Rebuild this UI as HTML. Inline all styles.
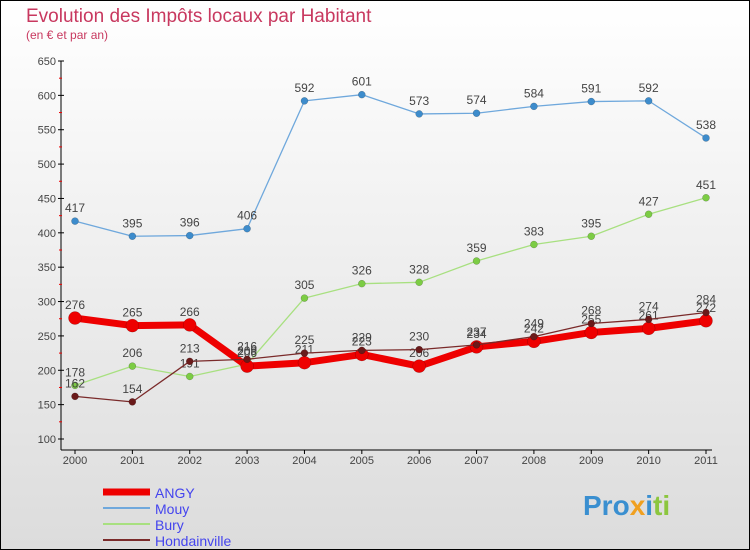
<!DOCTYPE html>
<html><head><meta charset="utf-8"><style>
body{margin:0;}
svg{display:block;font-family:"Liberation Sans",sans-serif;}
</style></head><body>
<svg id="chart" width="750" height="550">
<defs><linearGradient id="bg" x1="0" y1="0" x2="0" y2="1"><stop offset="0" stop-color="#ffffff"/><stop offset="1" stop-color="#dcdcdc"/></linearGradient></defs>
<rect x="0.5" y="0.5" width="749" height="549" fill="url(#bg)" stroke="#000"/>
<text x="26" y="22" font-size="19" fill="#c8385f">Evolution des Impôts locaux par Habitant</text>
<text x="26" y="39" font-size="12" fill="#c8385f">(en € et par an)</text>
<g id="axes"></g>
<g id="series"></g>
<g id="legend"></g>
<text x="583" y="515" font-size="28" font-weight="bold" fill="#3a8fd0">Pro<tspan fill="#f0a020">x</tspan><tspan fill="#3a8fd0">i</tspan><tspan fill="#8cc63f">ti</tspan></text>
</svg>
<script>
const years=[2000,2001,2002,2003,2004,2005,2006,2007,2008,2009,2010,2011];
const yTicks=[100,150,200,250,300,350,400,450,500,550,600,650];
const angy=[276,265,266,206,211,223,206,234,242,255,261,272];
const mouy=[417,395,396,406,592,601,573,574,584,591,592,538];
const bury=[178,206,191,209,305,326,328,359,383,395,427,451];
const hond=[162,154,213,216,225,229,230,237,249,268,274,284];
const NS="http://www.w3.org/2000/svg";
const x=i=>75+i*(706-75)/11;
const y=v=>439-(v-100)*(439-61)/550;
function mk(t,a,p){const e=document.createElementNS(NS,t);for(const k in a)e.setAttribute(k,a[k]);p.appendChild(e);return e;}
const ax=document.getElementById('axes');
let l=mk('line',{x1:61,y1:61,x2:61,y2:450,stroke:'#000'},ax);


l=mk('line',{x1:61,y1:450,x2:712,y2:450,stroke:'#000'},ax);


yTicks.forEach(v=>{
 mk('line',{x1:58,y1:y(v),x2:64,y2:y(v),stroke:'#000'},ax);
 const t=mk('text',{x:56,y:y(v)+4,'font-size':11,'text-anchor':'end',fill:'#444'},ax);t.textContent=v;
 
 
 if(v<650)mk('line',{x1:59,y1:y(v+25),x2:62,y2:y(v+25),stroke:'#e00'},ax);
});
years.forEach((yr,i)=>{
 mk('line',{x1:x(i),y1:450,x2:x(i),y2:454,stroke:'#000'},ax);
 const t=mk('text',{x:x(i),y:464,'font-size':11,'text-anchor':'middle',fill:'#444'},ax);t.textContent=yr;
 
 
});
const sg=document.getElementById('series');
function series(name,data,color,w,r,dot){
 const g=mk('g',{},sg);
 
 
 const pl=mk('polyline',{points:data.map((v,i)=>x(i)+','+y(v)).join(' '),fill:'none',stroke:color,'stroke-width':w,'stroke-linejoin':'round'},g);
 
 
 data.forEach((v,i)=>{
  const c=mk('circle',{cx:x(i),cy:y(v),r:r,fill:dot,stroke:'rgba(0,0,0,0.3)','stroke-width':0.5},g);
  
  
  const t=mk('text',{x:x(i),y:y(v)-9,'font-size':12,'text-anchor':'middle',fill:'#444'},g);t.textContent=v;
  
  
 });
}
series('mouy',mouy,'#6fa8dc',1.3,3.5,'#3d8ccc');
series('bury',bury,'#a8e080',1.3,3.5,'#7ccc44');
series('angy',angy,'#ee0000',7,6.5,'#ee0000');
series('hondainville',hond,'#7a2a2a',1.3,3.5,'#6a1a1a');
const lg=document.getElementById('legend');
const items=[['ANGY','#ee0000',7],['Mouy','#6fa8dc',2],['Bury','#a8e080',2],['Hondainville','#7a2a2a',2]];
items.forEach((it,k)=>{
 const yy=492+k*16;
 const ln=mk('line',{x1:103,y1:yy,x2:150,y2:yy,stroke:it[1],'stroke-width':it[2]},lg);
 
 
 const t=mk('text',{x:155,y:yy+6,'font-size':14,fill:'#4444ee'},lg);t.textContent=it[0];
 
 
});
</script>
</body></html>
